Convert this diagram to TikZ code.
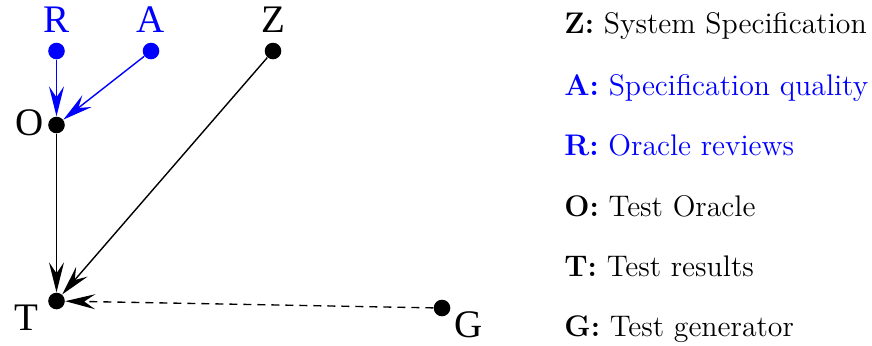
\documentclass[tikz,border=0pt]{standalone}
\usepackage{fontspec}
\newfontfamily\timesf{Liberation Serif}
\usetikzlibrary{arrows.meta}
\definecolor{pblue}{RGB}{0,0,255}
\tikzset{
  dot/.style={circle, fill=black, draw=none, minimum size=8.3pt, inner sep=0pt},
  bdot/.style={dot, fill=pblue},
  lab/.style={font=\timesf\fontsize{19.5}{22}\selectfont, inner sep=0pt},
  leg/.style={font=\fontsize{14.9}{17}\selectfont, anchor=base west, inner sep=0pt},
  arr/.style={line width=0.7pt, -{Stealth[length=15pt, width=7.5pt, inset=5.5pt]}},
}
\begin{document}
\begin{tikzpicture}[x=0.5pt, y=-0.5pt]
\useasboundingbox (0,0) rectangle (872,345);
% dots
\node[bdot] (R) at (56.5,51) {};
\node[bdot] (A) at (151,51) {};
\node[dot] (Z) at (273,51) {};
\node[dot] (O) at (56.5,125) {};
\node[dot] (T) at (56.5,301) {};
\node[dot] (G) at (442,308) {};
% labels
\node[lab, text=pblue] (Rl) at (56.5,20) {R};
\node[lab, text=pblue] (Al) at (151,20) {A};
\node[lab] (Zl) at (273,20) {Z};
\node[lab] (Ol) at (30,123) {O};
\node[lab] (Tl) at (26,318) {T};
\node[lab] (Gl) at (469,325) {G};
% connectors
\draw[arr, pblue] (R) -- (O);
\draw[arr, pblue] (A) -- (O);
\draw[arr] (O) -- (T);
\draw[arr] (Z) -- (T);
\draw[arr, dash pattern=on 4pt off 3pt] (G) -- (T);
% legend
\node[leg] (LZ) at (564,33) {\textbf{Z:} System Specification};
\node[leg, text=pblue] (LA) at (564,95) {\textbf{A:} Specification quality};
\node[leg, text=pblue] (LR) at (564,155) {\textbf{R:} Oracle reviews};
\node[leg] (LO) at (564,216) {\textbf{O:} Test Oracle};
\node[leg] (LT) at (564,276) {\textbf{T:} Test results};
\node[leg] (LG) at (564,336) {\textbf{G:} Test generator};
\end{tikzpicture}
\end{document}
